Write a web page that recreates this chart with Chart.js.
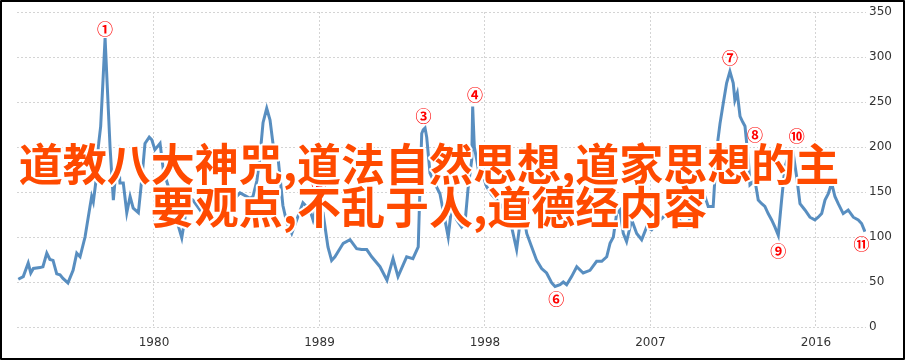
<!DOCTYPE html>
<html>
<head>
<meta charset="utf-8">
<script src="https://cdn.jsdelivr.net/npm/chart.js@4/dist/chart.umd.min.js"></script>
<style>
  html, body { margin: 0; padding: 0; background: #fff; }
  #wrap { width: 905px; height: 360px; position: relative; }
</style>
</head>
<body>
<div id="wrap"><canvas id="lineChart" width="905" height="360"></canvas></div>
<script>
// valores (ano decimal -> valor)
const years = [
  1972.62, 1972.89, 1973.16, 1973.30, 1973.44, 1973.80, 1973.96, 1974.17, 1974.34, 1974.51,
  1974.71, 1974.89, 1975.05, 1975.32, 1975.60, 1975.80, 1975.98, 1976.25, 1976.52, 1976.61,
  1976.70, 1976.85, 1976.97, 1977.10, 1977.21, 1977.34, 1977.46, 1977.61, 1977.79, 1977.93,
  1978.06, 1978.15, 1978.33, 1978.52, 1978.70, 1978.87, 1979.15, 1979.33, 1979.51, 1979.74,
  1979.88, 1980.05, 1980.33, 1980.51, 1980.87, 1981.23, 1981.51, 1981.69, 1981.79, 1982.12,
  1982.50, 1982.77, 1983.21, 1983.59, 1984.30, 1984.68, 1985.22, 1985.38, 1985.60, 1985.76,
  1985.93, 1986.13, 1986.31, 1986.47, 1986.74, 1987.01, 1987.22, 1987.49, 1987.76, 1988.10,
  1988.48, 1988.65, 1988.85, 1989.19, 1989.46, 1989.66, 1989.84, 1990.29, 1990.66, 1991.02,
  1991.29, 1991.57, 1991.84, 1992.29, 1992.67, 1993.00, 1993.27, 1993.74, 1994.08, 1994.37,
  1994.46, 1994.56, 1994.64, 1994.74, 1994.83, 1995.01, 1995.19, 1995.55, 1996.00, 1996.19,
  1996.46, 1996.73, 1996.91, 1997.09, 1997.28, 1997.33, 1997.42, 1997.55, 1997.73, 1997.91,
  1998.09, 1998.36, 1998.64, 1998.91, 1999.18, 1999.45, 1999.72, 1999.90, 2000.08, 2000.27,
  2000.54, 2000.81, 2001.08, 2001.35, 2001.63, 2001.81, 2002.08, 2002.26, 2002.44, 2002.71,
  2002.99, 2003.34, 2003.71, 2004.07, 2004.35, 2004.62, 2004.80, 2004.98, 2005.16, 2005.34,
  2005.52, 2005.70, 2005.98, 2006.25, 2006.52, 2006.79, 2007.06, 2007.34, 2007.88, 2008.42,
  2008.97, 2009.33, 2009.69, 2009.96, 2010.14, 2010.41, 2010.60, 2010.78, 2010.96, 2011.14,
  2011.32, 2011.50, 2011.59, 2011.72, 2011.87, 2012.01, 2012.14, 2012.32, 2012.41, 2012.68,
  2012.86, 2013.05, 2013.22, 2013.40, 2013.59, 2013.77, 2013.95, 2014.13, 2014.31, 2014.49,
  2014.76, 2014.95, 2015.13, 2015.40, 2015.67, 2015.94, 2016.12, 2016.31, 2016.49, 2016.67,
  2016.85, 2017.03, 2017.21, 2017.48, 2017.75, 2018.03, 2018.30, 2018.48, 2018.66
];
const values = [
  53, 56, 71, 60, 65, 66, 67, 82, 75, 74,
  59, 58, 54, 49, 63, 82, 78, 100, 134, 145,
  139, 163, 200, 223, 267, 321, 267, 200, 141, 174,
  189, 160, 160, 127, 145, 132, 127, 163, 204, 211,
  208, 197, 204, 174, 150, 119, 99, 122, 145, 141,
  130, 138, 141, 136, 141, 149, 143, 145, 163, 189,
  227, 243, 230, 204, 189, 135, 116, 104, 119, 138,
  130, 119, 134, 127, 89, 74, 78, 93, 97, 87,
  86, 86, 78, 67, 52, 76, 56, 78, 76, 89,
  152, 215, 219, 221, 211, 171, 163, 148, 100, 134,
  119, 111, 115, 156, 186, 245, 200, 186, 163, 167,
  156, 147, 141, 134, 126, 111, 86, 115, 126, 104,
  89, 74, 65, 60, 49, 45, 47, 50, 47, 56,
  67, 60, 63, 73, 73, 78, 93, 100, 126, 130,
  104, 95, 119, 104, 97, 111, 108, 115, 126, 122,
  111, 130, 141, 145, 134, 134, 197, 226, 249, 271,
  284, 271, 252, 260, 234, 228, 223, 186, 158, 163,
  141, 137, 134, 126, 119, 111, 102, 141, 178, 189,
  193, 167, 137, 130, 122, 119, 122, 126, 141, 148,
  160, 145, 137, 126, 130, 122, 119, 115, 106
];

const tickYears = [1980, 1989, 1998, 2007, 2016];

// marcadores numerados
const noteLabels = ['①', '②', '③', '④', '⑤', '⑥', '⑦', '⑧', '⑨', '⑩', '⑪'];
const noteYears = [1977.34, 1988.98, 1994.65, 1997.46, 2000.00, 2001.87, 2011.32, 2012.68, 2013.95, 2014.95, 2018.48];
const noteValues = [331, 160, 234, 258, 141, 31, 299, 213, 84, 212, 92];

const overlayLines = ['道教八大神咒,道法自然思想,道家思想的主', '要观点,不乱于人,道德经内容'];

const extras = {
    id: 'extras',
    beforeDraw(chart) {
        const c = chart.ctx;
        c.save();
        c.fillStyle = '#fff';
        c.fillRect(0, 0, chart.width, chart.height);
        c.restore();
    },
    afterDatasetsDraw(chart) {
        const c = chart.ctx;
        const xs = chart.scales.x, ys = chart.scales.y;
        c.save();
        c.font = 'bold 16px "Noto Sans CJK SC"';
        c.textAlign = 'center';
        c.textBaseline = 'middle';
        c.fillStyle = '#ff0000';
        noteLabels.forEach((t, i) => {
            c.fillText(t, xs.getPixelForValue(noteYears[i]), ys.getPixelForValue(noteValues[i]));
        });
        c.restore();
    },
    afterDraw(chart) {
        const c = chart.ctx;
        c.save();
        c.font = 'bold 44px "Noto Sans CJK SC"';
        c.textBaseline = 'middle';
        c.textAlign = 'center';
        c.lineJoin = 'round';
        const cx = 429;
        [164, 207].forEach((y, i) => {
            c.lineWidth = 4;
            c.strokeStyle = '#fff';
            c.strokeText(overlayLines[i], cx, y);
            c.fillStyle = '#ff4a00';
            c.fillText(overlayLines[i], cx, y);
        });
        // moldura
        c.lineWidth = 2;
        c.strokeStyle = '#000';
        c.strokeRect(1, 1, chart.width - 2, chart.height - 2);
        c.restore();
    }
};

const ctx = document.getElementById('lineChart').getContext('2d');
const lineChart = new Chart(ctx, {
    type: 'line',
    data: {
        datasets: [{
            data: years.map((y, i) => ({ x: y, y: values[i] })),
            borderColor: 'rgba(70, 130, 185, 0.9)',
            borderWidth: 3,
            pointRadius: 0,
            tension: 0,
            fill: false
        }]
    },
    options: {
        responsive: false,
        animation: false,
        layout: { padding: { left: 17, top: 12, right: 0, bottom: 0 } },
        plugins: { legend: { display: false }, tooltip: { enabled: false } },
        scales: {
            x: {
                type: 'linear',
                min: 1972.55,
                max: 2018.72,
                afterBuildTicks: (scale) => { scale.ticks = tickYears.map(v => ({ value: v })); },
                afterFit: (scale) => { scale.height = 33; },
                grid: { color: '#d4d4d4', drawTicks: false },
                border: { display: false, dash: [2, 2] },
                ticks: {
                    padding: 9,
                    maxRotation: 0,
                    autoSkip: false,
                    color: '#333',
                    font: { family: 'DejaVu Sans', size: 12 },
                    callback: (v) => String(v)
                }
            },
            y: {
                position: 'right',
                min: 0,
                max: 350,
                afterFit: (scale) => { scale.width = 39; },
                grid: { color: '#d4d4d4', drawTicks: false },
                border: { display: false, dash: [2, 2] },
                ticks: {
                    stepSize: 50,
                    padding: 3,
                    color: '#333',
                    font: { family: 'DejaVu Sans', size: 12 }
                }
            }
        }
    },
    plugins: [extras]
});
</script>
</body>
</html>
